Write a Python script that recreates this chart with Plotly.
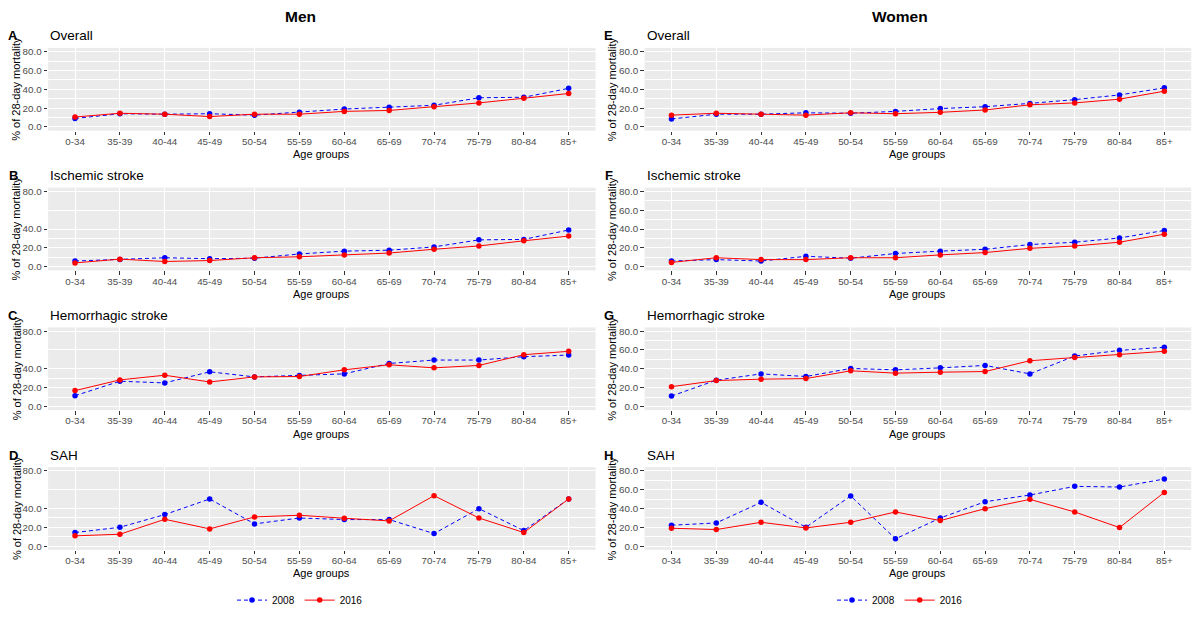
import plotly.graph_objects as go

# ---------------- data ----------------
age_groups = ["0-34", "35-39", "40-44", "45-49", "50-54", "55-59",
              "60-64", "65-69", "70-74", "75-79", "80-84", "85+"]
years = ["2008", "2016"]
sex_titles = ["Men", "Women"]

men_overall_2008 = [9.0, 14.0, 13.5, 14.0, 12.5, 15.5, 19.0, 21.0, 23.0, 31.0, 31.5, 41.0]
men_overall_2016 = [10.5, 14.5, 13.5, 11.0, 13.5, 13.5, 16.5, 17.5, 21.5, 25.5, 30.5, 35.5]
men_ischemic_2008 = [6.0, 7.5, 9.5, 8.5, 9.0, 13.5, 16.5, 17.5, 21.0, 28.5, 29.0, 39.0]
men_ischemic_2016 = [4.0, 8.0, 5.5, 6.5, 9.5, 10.5, 12.5, 14.5, 18.5, 22.0, 27.5, 32.5]
men_hemorrhagic_2008 = [11.4, 26.8, 25.0, 36.8, 31.4, 33.0, 34.6, 45.7, 49.3, 49.3, 52.9, 54.6]
men_hemorrhagic_2016 = [16.8, 28.2, 33.2, 26.0, 31.4, 31.8, 38.9, 44.3, 41.0, 43.6, 55.0, 58.6]
men_sah_2008 = [14.5, 20.1, 33.6, 50.2, 23.7, 30.0, 28.3, 28.3, 13.4, 39.9, 16.6, 50.2]
men_sah_2016 = [11.0, 12.7, 28.6, 18.4, 31.1, 32.9, 29.7, 26.9, 53.7, 30.0, 14.5, 50.2]

women_overall_2008 = [8.5, 13.5, 13.5, 15.0, 14.5, 16.5, 19.5, 21.5, 25.0, 29.0, 34.0, 41.5]
women_overall_2016 = [12.5, 14.5, 13.5, 12.5, 15.0, 14.0, 15.5, 18.0, 23.5, 25.5, 29.5, 38.0]
women_ischemic_2008 = [6.0, 7.5, 6.0, 11.0, 9.0, 14.0, 16.5, 18.5, 23.5, 26.0, 30.5, 38.5]
women_ischemic_2016 = [4.5, 9.5, 7.5, 7.5, 9.5, 9.5, 12.5, 15.0, 19.5, 22.0, 26.0, 34.5]
women_hemorrhagic_2008 = [11.0, 27.9, 34.6, 31.8, 40.4, 38.9, 41.0, 43.6, 34.6, 53.6, 59.6, 62.9]
women_hemorrhagic_2016 = [21.0, 27.5, 29.0, 29.6, 37.9, 35.4, 36.4, 37.1, 48.6, 52.1, 55.0, 58.6]
women_sah_2008 = [22.3, 24.7, 46.6, 20.1, 53.4, 7.8, 30.0, 47.3, 54.4, 63.6, 62.9, 71.4]
women_sah_2016 = [19.1, 17.7, 25.4, 19.4, 25.4, 36.4, 27.2, 39.9, 49.8, 36.4, 19.8, 57.2]

ticks_full = [0, 20, 40, 60, 80]
ticks_short = [0, 20, 40, 80]
minor_full = [10, 30, 50, 70]
minor_short = [10, 30, 60]

panel_tags = ["A", "B", "C", "D", "E", "F", "G", "H"]
panel_titles = ["Overall", "Ischemic stroke", "Hemorrhagic stroke", "SAH"]

series = [
    (men_overall_2008, men_overall_2016, ticks_full, minor_full),
    (men_ischemic_2008, men_ischemic_2016, ticks_short, minor_short),
    (men_hemorrhagic_2008, men_hemorrhagic_2016, ticks_short, minor_short),
    (men_sah_2008, men_sah_2016, ticks_short, minor_short),
    (women_overall_2008, women_overall_2016, ticks_full, minor_full),
    (women_ischemic_2008, women_ischemic_2016, ticks_full, minor_full),
    (women_hemorrhagic_2008, women_hemorrhagic_2016, ticks_full, minor_full),
    (women_sah_2008, women_sah_2016, ticks_full, minor_full),
]

# ---------------- layout geometry (pixels) ----------------
W, H = 1200, 619
FONT = "Liberation Sans, Arial, sans-serif"
col_x = [(48.1, 595.6), (644.6, 1191.2)]
row_top0, row_bot0, pitch = 46.2, 129.5, 140.67
tag_x = [13, 609]
ytitle_x = [16.5, 612]
sex_x = [300, 900]


def fx(p):
    return p / W


def fy(p):
    return 1 - p / H


fig = go.Figure()
layout = {}
annotations = []

for i, (v08, v16, tk, mn) in enumerate(series):
    col, row = divmod(i, 4)
    n = i + 1
    xa = "x" if n == 1 else f"x{n}"
    ya = "y" if n == 1 else f"y{n}"
    top = row_top0 + row * pitch
    bot = row_bot0 + row * pitch
    x0, x1 = col_x[col]
    leg = "legend" if col == 0 else "legend2"
    show = row == 0

    fig.add_trace(go.Scatter(
        x=age_groups, y=v08, name=years[0], mode="lines+markers",
        line=dict(color="#0000FF", width=1, dash="4px,3px"),
        marker=dict(color="#0000FF", size=5.5),
        xaxis=xa, yaxis=ya, legend=leg, showlegend=show))
    fig.add_trace(go.Scatter(
        x=age_groups, y=v16, name=years[1], mode="lines+markers",
        line=dict(color="#FF0000", width=1),
        marker=dict(color="#FF0000", size=5.5),
        xaxis=xa, yaxis=ya, legend=leg, showlegend=show))

    layout[f"xaxis{n}" if n > 1 else "xaxis"] = dict(
        domain=[fx(x0), fx(x1)], anchor=ya, type="category",
        categoryorder="array", categoryarray=age_groups,
        range=[-0.6, 11.6], showgrid=True, gridcolor="white", gridwidth=1.1,
        zeroline=False, showline=False, ticks="outside", ticklen=3.5,
        tickwidth=1, tickcolor="#333333", ticklabelstandoff=-2,
        tickfont=dict(family=FONT, size=9.8, color="#4D4D4D"),
        fixedrange=True)
    layout[f"yaxis{n}" if n > 1 else "yaxis"] = dict(
        domain=[fy(bot), fy(top)], anchor=xa, range=[-4, 84],
        tickmode="array", tickvals=tk, tickformat=".1f",
        showgrid=True, gridcolor="white", gridwidth=1.1,
        minor=dict(tickmode="array", tickvals=mn, showgrid=True,
                   gridcolor="white", gridwidth=0.5, ticks=""),
        zeroline=False, showline=False, ticks="outside", ticklen=3.5,
        tickwidth=1, tickcolor="#333333",
        tickfont=dict(family=FONT, size=9.8, color="#4D4D4D"),
        fixedrange=True)

    ylab = 34 + row * pitch
    annotations.append(dict(text="<b>" + panel_tags[i] + "</b>", x=fx(tag_x[col]),
                            y=fy(ylab), xref="paper", yref="paper",
                            showarrow=False, xanchor="center", yanchor="middle",
                            font=dict(family=FONT, size=13, color="black")))
    annotations.append(dict(text=panel_titles[row], x=fx(x0), y=fy(ylab),
                            xref="paper", yref="paper", showarrow=False,
                            xanchor="left", yanchor="middle",
                            font=dict(family=FONT, size=13.5, color="black")))
    annotations.append(dict(text="% of 28-day mortality", x=fx(ytitle_x[col]),
                            y=fy((top + bot) / 2), xref="paper", yref="paper",
                            showarrow=False, textangle=-90,
                            xanchor="center", yanchor="middle",
                            font=dict(family=FONT, size=11, color="black")))
    annotations.append(dict(text="Age groups", x=fx((x0 + x1) / 2),
                            y=fy(153 + row * pitch), xref="paper", yref="paper",
                            showarrow=False, xanchor="center", yanchor="middle",
                            font=dict(family=FONT, size=11, color="black")))

for c in range(2):
    annotations.append(dict(text="<b>" + sex_titles[c] + "</b>", x=fx(sex_x[c]),
                            y=fy(15), xref="paper", yref="paper",
                            showarrow=False, xanchor="center", yanchor="middle",
                            font=dict(family=FONT, size=15.5, color="black")))

legend_common = dict(orientation="h", xanchor="center", yanchor="middle",
                     y=fy(602), font=dict(family=FONT, size=10, color="black"),
                     bgcolor="rgba(0,0,0,0)", itemwidth=30, tracegroupgap=0)

fig.update_layout(
    width=W, height=H, margin=dict(l=0, r=0, t=0, b=0),
    paper_bgcolor="white", plot_bgcolor="#EBEBEB",
    font=dict(family=FONT),
    annotations=annotations,
    legend=dict(x=fx(sex_x[0]), **legend_common),
    legend2=dict(x=fx(sex_x[1]), **legend_common),
    **layout)

fig.write_html("out.html", config={"displayModeBar": False},
               post_script="document.body.style.margin='0';document.body.style.overflow='hidden';")
